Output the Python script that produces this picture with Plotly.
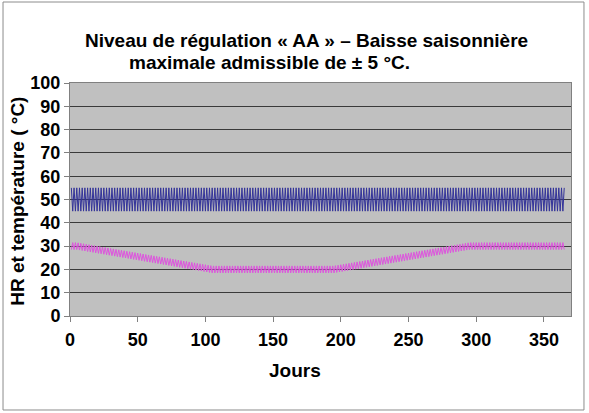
import plotly.graph_objects as go

# day number on the x axis
days = list(range(1, 366))

# relative humidity (HR), alternating high / low each day
hr = [
    55, 45, 55, 45, 55, 45, 55, 45, 55, 45,
    55, 45, 55, 45, 55, 45, 55, 45, 55, 45,
    55, 45, 55, 45, 55, 45, 55, 45, 55, 45,
    55, 45, 55, 45, 55, 45, 55, 45, 55, 45,
    55, 45, 55, 45, 55, 45, 55, 45, 55, 45,
    55, 45, 55, 45, 55, 45, 55, 45, 55, 45,
    55, 45, 55, 45, 55, 45, 55, 45, 55, 45,
    55, 45, 55, 45, 55, 45, 55, 45, 55, 45,
    55, 45, 55, 45, 55, 45, 55, 45, 55, 45,
    55, 45, 55, 45, 55, 45, 55, 45, 55, 45,
    55, 45, 55, 45, 55, 45, 55, 45, 55, 45,
    55, 45, 55, 45, 55, 45, 55, 45, 55, 45,
    55, 45, 55, 45, 55, 45, 55, 45, 55, 45,
    55, 45, 55, 45, 55, 45, 55, 45, 55, 45,
    55, 45, 55, 45, 55, 45, 55, 45, 55, 45,
    55, 45, 55, 45, 55, 45, 55, 45, 55, 45,
    55, 45, 55, 45, 55, 45, 55, 45, 55, 45,
    55, 45, 55, 45, 55, 45, 55, 45, 55, 45,
    55, 45, 55, 45, 55, 45, 55, 45, 55, 45,
    55, 45, 55, 45, 55, 45, 55, 45, 55, 45,
    55, 45, 55, 45, 55, 45, 55, 45, 55, 45,
    55, 45, 55, 45, 55, 45, 55, 45, 55, 45,
    55, 45, 55, 45, 55, 45, 55, 45, 55, 45,
    55, 45, 55, 45, 55, 45, 55, 45, 55, 45,
    55, 45, 55, 45, 55, 45, 55, 45, 55, 45,
    55, 45, 55, 45, 55, 45, 55, 45, 55, 45,
    55, 45, 55, 45, 55, 45, 55, 45, 55, 45,
    55, 45, 55, 45, 55, 45, 55, 45, 55, 45,
    55, 45, 55, 45, 55, 45, 55, 45, 55, 45,
    55, 45, 55, 45, 55, 45, 55, 45, 55, 45,
    55, 45, 55, 45, 55, 45, 55, 45, 55, 45,
    55, 45, 55, 45, 55, 45, 55, 45, 55, 45,
    55, 45, 55, 45, 55, 45, 55, 45, 55, 45,
    55, 45, 55, 45, 55, 45, 55, 45, 55, 45,
    55, 45, 55, 45, 55, 45, 55, 45, 55, 45,
    55, 45, 55, 45, 55, 45, 55, 45, 55, 45,
    55, 45, 55, 45, 55,
]

# temperature (°C), seasonal drop from 30 to 20 and back
temperature = [
    28.5, 31.5, 28.5, 31.5, 28.5, 31.4, 28.3, 31.2, 28.1,
    31.0, 27.9, 30.8, 27.7, 30.6, 27.5, 30.4, 27.3, 30.2, 27.1,
    30.0, 26.9, 29.8, 26.7, 29.6, 26.5, 29.4, 26.3, 29.2, 26.1,
    29.0, 25.9, 28.8, 25.7, 28.6, 25.5, 28.4, 25.3, 28.2, 25.1,
    28.0, 24.9, 27.8, 24.7, 27.6, 24.5, 27.4, 24.3, 27.2, 24.1,
    27.0, 23.9, 26.8, 23.7, 26.6, 23.5, 26.4, 23.3, 26.2, 23.1,
    26.0, 22.9, 25.8, 22.7, 25.6, 22.5, 25.4, 22.3, 25.2, 22.1,
    25.0, 21.9, 24.8, 21.7, 24.6, 21.5, 24.4, 21.3, 24.2, 21.1,
    24.0, 20.9, 23.8, 20.7, 23.6, 20.5, 23.4, 20.3, 23.2, 20.1,
    23.0, 19.9, 22.8, 19.7, 22.6, 19.5, 22.4, 19.3, 22.2, 19.1,
    22.0, 18.9, 21.8, 18.7, 21.6, 18.5, 21.5, 18.5, 21.5, 18.5,
    21.5, 18.5, 21.5, 18.5, 21.5, 18.5, 21.5, 18.5, 21.5, 18.5,
    21.5, 18.5, 21.5, 18.5, 21.5, 18.5, 21.5, 18.5, 21.5, 18.5,
    21.5, 18.5, 21.5, 18.5, 21.5, 18.5, 21.5, 18.5, 21.5, 18.5,
    21.5, 18.5, 21.5, 18.5, 21.5, 18.5, 21.5, 18.5, 21.5, 18.5,
    21.5, 18.5, 21.5, 18.5, 21.5, 18.5, 21.5, 18.5, 21.5, 18.5,
    21.5, 18.5, 21.5, 18.5, 21.5, 18.5, 21.5, 18.5, 21.5, 18.5,
    21.5, 18.5, 21.5, 18.5, 21.5, 18.5, 21.5, 18.5, 21.5, 18.5,
    21.5, 18.5, 21.5, 18.5, 21.5, 18.5, 21.5, 18.5, 21.5, 18.5,
    21.5, 18.5, 21.5, 18.5, 21.5, 18.5, 21.6, 18.7, 21.8, 18.9,
    22.0, 19.1, 22.2, 19.3, 22.4, 19.5, 22.6, 19.7, 22.8, 19.9,
    23.0, 20.1, 23.2, 20.3, 23.4, 20.5, 23.6, 20.7, 23.8, 20.9,
    24.0, 21.1, 24.2, 21.3, 24.4, 21.5, 24.6, 21.7, 24.8, 21.9,
    25.0, 22.1, 25.2, 22.3, 25.4, 22.5, 25.6, 22.7, 25.8, 22.9,
    26.0, 23.1, 26.2, 23.3, 26.4, 23.5, 26.6, 23.7, 26.8, 23.9,
    27.0, 24.1, 27.2, 24.3, 27.4, 24.5, 27.6, 24.7, 27.8, 24.9,
    28.0, 25.1, 28.2, 25.3, 28.4, 25.5, 28.6, 25.7, 28.8, 25.9,
    29.0, 26.1, 29.2, 26.3, 29.4, 26.5, 29.6, 26.7, 29.8, 26.9,
    30.0, 27.1, 30.2, 27.3, 30.4, 27.5, 30.6, 27.7, 30.8, 27.9,
    31.0, 28.1, 31.2, 28.3, 31.4, 28.5, 31.5, 28.5, 31.5, 28.5,
    31.5, 28.5, 31.5, 28.5, 31.5, 28.5, 31.5, 28.5, 31.5, 28.5,
    31.5, 28.5, 31.5, 28.5, 31.5, 28.5, 31.5, 28.5, 31.5, 28.5,
    31.5, 28.5, 31.5, 28.5, 31.5, 28.5, 31.5, 28.5, 31.5, 28.5,
    31.5, 28.5, 31.5, 28.5, 31.5, 28.5, 31.5, 28.5, 31.5, 28.5,
    31.5, 28.5, 31.5, 28.5, 31.5, 28.5, 31.5, 28.5, 31.5, 28.5,
    31.5, 28.5, 31.5, 28.5, 31.5, 28.5, 31.5, 28.5, 31.5, 28.5,
    31.5, 28.5, 31.5, 28.5, 31.5, 28.5,
]

x_ticks = [0, 50, 100, 150, 200, 250, 300, 350]
y_ticks = [0, 10, 20, 30, 40, 50, 60, 70, 80, 90, 100]

FONT = "Arial, Liberation Sans, sans-serif"

fig = go.Figure()
fig.add_trace(go.Scatter(x=days, y=hr, mode="lines", name="HR",
                         line=dict(color="#333399", width=1)))
fig.add_trace(go.Scatter(x=days, y=temperature, mode="lines", name="Température",
                         line=dict(color="#DD55DD", width=1)))

fig.update_layout(
    width=589, height=413,
    margin=dict(l=70, r=18, t=83, b=97),
    paper_bgcolor="white",
    plot_bgcolor="#C0C0C0",
    showlegend=False,
    font=dict(family=FONT, color="black"),
)
tick_font = dict(size=18, family=FONT, weight="bold")
fig.update_xaxes(
    range=[0, 370], tickvals=x_ticks, showgrid=False, zeroline=False,
    showline=True, linecolor="#808080", linewidth=1, mirror=True,
    ticks="outside", ticklen=5, tickcolor="#808080",
    ticklabelstandoff=2, tickfont=tick_font,
)
fig.update_yaxes(
    range=[0, 100], tickvals=y_ticks, showgrid=True, gridcolor="#3a3a3a",
    gridwidth=1, zeroline=False,
    showline=True, linecolor="#808080", linewidth=1, mirror=True,
    ticks="outside", ticklen=5, tickcolor="#808080",
    tickfont=tick_font,
)

title_font = dict(size=19, family=FONT, weight="bold", color="black")
axis_font = dict(size=19, family=FONT, weight="bold", color="black")
fig.add_annotation(text="Niveau de régulation « AA » – Baisse saisonnière",
                   xref="paper", yref="paper", x=0.473, y=1.1845,
                   xanchor="center", yanchor="middle", borderpad=0,
                   showarrow=False, font=title_font)
fig.add_annotation(text="maximale admissible de ± 5 °C.",
                   xref="paper", yref="paper", x=0.399, y=1.0901,
                   xanchor="center", yanchor="middle", borderpad=0,
                   showarrow=False, font=title_font)
fig.add_annotation(text="Jours", xref="paper", yref="paper", x=0.449, y=-0.236,
                   xanchor="center", yanchor="middle",
                   showarrow=False, font=axis_font)
fig.add_annotation(text="HR et température ( °C)", xref="paper", yref="paper",
                   x=-0.104, y=0.494, textangle=-90,
                   xanchor="center", yanchor="middle",
                   showarrow=False, font=axis_font)

# chart area border
fig.add_shape(type="rect", xref="paper", yref="paper",
              x0=-0.1337, x1=1.0259, y0=-0.4034, y1=1.3476,
              line=dict(color="#8c8c8c", width=1), layer="below")

# drop the default page margin so the figure sits at the window origin
fig.write_html("out.html", config={"displayModeBar": False},
               post_script="document.body.style.margin='0';")
